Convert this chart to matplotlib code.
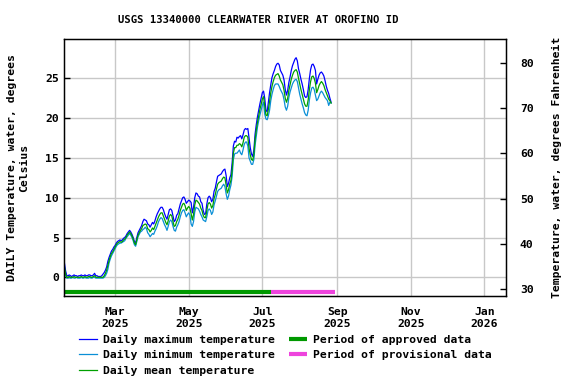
import matplotlib
matplotlib.use("Agg")
import matplotlib.pyplot as plt
import numpy as np
import pandas as pd

start_date = "2025-01-18"
flat_max = [0.2,0.3,0.2,0.1,0.2,0.3,0.2,0.2,0.1,0.2,0.2,0.3,0.2,0.2,0.3,0.2,0.2,0.3,0.3,0.2,0.2,0.3,0.5,0.2,0.2,0.1,0.1,0.1,0.2]
flat_min = [-0.1,0.0,-0.1,-0.1,0.0,-0.1,-0.1,0.0,-0.1,-0.1,-0.1,0.0,-0.1,-0.1,0.0,-0.1,-0.1,-0.1,0.0,-0.1,-0.1,0.0,0.0,-0.1,-0.1,-0.1,-0.1,-0.1,-0.1]
flat_mean = [0.0,0.1,0.0,0.0,0.0,0.1,0.0,0.0,0.0,0.0,0.0,0.1,0.0,0.0,0.1,0.0,0.0,0.1,0.1,0.0,0.0,0.1,0.2,0.0,0.0,0.0,0.0,0.0,0.0]

tmax = [1.8,0.8,0.2] + flat_max + [
 0.4,0.6,0.9,1.3,2.0,2.5,2.9,3.3,3.5,3.8,4.0,4.3,4.5,4.6,4.7,4.6,4.7,4.9,5.0,5.2,
 5.5,5.7,5.9,5.7,5.4,5.0,4.5,4.3,5.0,5.6,5.9,6.2,6.5,7.0,7.3,7.2,7.1,6.7,6.6,6.3,
 6.6,6.9,6.7,7.1,7.6,8.0,8.3,8.6,8.8,8.8,8.5,8.0,7.6,7.3,7.9,8.5,8.6,8.4,7.7,7.0,
 7.2,7.8,8.0,8.6,9.2,9.6,10.0,10.1,9.8,9.3,9.5,9.7,9.6,9.4,8.1,8.8,10.0,10.6,10.5,10.2,
 10.1,9.5,9.3,8.4,7.9,8.0,9.2,10.0,10.2,10.0,9.5,9.8,10.8,11.2,12.0,12.7,12.8,12.9,13.0,13.3,
 13.5,13.6,12.8,11.4,11.8,12.5,12.9,14.4,16.5,17.1,17.0,17.6,17.5,17.7,17.8,17.4,17.9,18.5,18.7,18.6,
 18.7,17.5,16.3,15.5,15.2,16.0,18.0,19.2,20.2,21.0,21.8,22.5,23.2,23.4,22.5,21.0,20.8,22.0,23.2,24.2,
 25.1,25.6,26.0,26.5,26.8,26.9,26.7,26.0,25.7,25.4,24.8,23.6,22.9,23.5,24.5,25.2,26.0,26.6,27.0,27.4,
 27.6,27.2,26.2,25.6,24.9,24.3,23.6,22.8,22.6,22.7,23.6,25.0,26.1,26.7,26.8,26.5,26.0,24.3,24.9,25.4,
 25.7,25.8,25.6,25.3,24.7,24.0,23.5,23.1,22.5,22.0]

tmin = [0.9,0.2,-0.1] + flat_min + [
 -0.1,0.0,0.2,0.5,1.0,1.8,2.3,2.7,3.0,3.3,3.6,3.9,4.1,4.2,4.3,4.3,4.4,4.5,4.6,4.9,
 5.1,5.3,5.5,5.3,5.0,4.6,4.1,3.9,4.5,5.1,5.4,5.7,5.8,6.0,6.1,6.3,6.1,5.6,5.4,5.1,
 5.3,5.5,5.4,5.8,6.1,6.5,7.0,7.3,7.5,7.4,7.0,6.6,6.3,5.9,6.4,7.0,7.2,7.0,6.4,5.9,
 5.8,6.3,6.6,7.0,7.6,8.1,8.4,8.5,8.1,7.6,7.9,8.1,7.8,6.7,6.4,7.0,8.2,8.8,8.7,8.6,
 8.3,7.9,7.6,7.2,7.1,7.0,7.6,8.4,8.6,8.4,7.9,8.2,9.1,9.6,10.2,10.8,11.0,11.1,11.2,11.5,
 11.7,11.4,10.5,9.8,10.2,11.0,11.6,12.7,14.8,15.5,15.6,15.6,15.8,16.0,15.6,15.4,16.0,16.7,17.0,17.0,
 16.5,15.0,14.6,14.2,14.2,14.8,16.6,17.8,18.9,19.7,20.4,21.0,21.6,22.0,20.5,19.9,19.8,20.3,21.0,22.2,
 23.0,23.6,24.1,24.3,24.3,24.3,24.0,23.6,23.3,23.0,22.3,21.4,21.0,21.5,22.6,23.3,23.8,24.3,24.6,24.8,
 24.9,24.6,23.8,23.0,22.4,21.8,21.3,20.7,20.4,20.3,21.0,22.3,23.2,23.8,23.9,23.6,22.9,22.2,22.4,22.8,
 23.2,23.4,23.2,22.9,22.6,22.4,22.2,21.6,22.0,21.9]

tmean = [1.3,0.4,0.0] + flat_mean + [
 0.0,0.2,0.5,0.9,1.5,2.1,2.6,3.0,3.2,3.5,3.8,4.1,4.3,4.4,4.5,4.4,4.5,4.7,4.8,5.0,
 5.3,5.5,5.7,5.5,5.2,4.8,4.3,4.1,4.7,5.3,5.6,5.9,6.1,6.5,6.6,6.7,6.6,6.1,6.0,5.7,
 5.9,6.2,6.0,6.4,6.8,7.2,7.6,7.9,8.1,8.1,7.7,7.3,6.9,6.6,7.1,7.7,7.9,7.7,7.0,6.4,
 6.5,7.0,7.3,7.8,8.4,8.8,9.2,9.3,9.0,8.4,8.7,8.9,8.7,8.0,7.2,7.9,9.1,9.7,9.6,9.4,
 9.2,8.7,8.4,7.8,7.5,7.5,8.4,9.2,9.4,9.2,8.7,9.0,9.9,10.4,11.1,11.7,11.9,12.0,12.1,12.4,
 12.6,12.5,11.6,10.6,11.0,11.7,12.2,13.5,15.6,16.3,16.3,16.6,16.6,16.8,16.7,16.4,16.9,17.6,17.8,17.8,
 17.6,16.2,15.4,14.8,14.7,15.4,17.3,18.5,19.5,20.3,21.1,21.7,22.4,22.7,21.5,20.4,20.3,21.1,22.1,23.2,
 24.0,24.6,25.1,25.4,25.5,25.6,25.3,24.8,24.5,24.2,23.5,22.5,22.0,22.5,23.5,24.2,24.9,25.4,25.8,26.0,
 26.1,25.8,25.0,24.3,23.6,23.0,22.4,21.8,21.5,21.5,22.3,23.6,24.6,25.2,25.3,25.0,24.4,23.2,23.6,24.1,
 24.4,24.6,24.4,24.1,23.6,23.2,22.8,22.4,22.2,21.9]

approved_period = ["2025-01-18", "2025-07-08"]
provisional_period = ["2025-07-08", "2025-08-30"]
period_level = -1.8

tick_dates = ["2025-03-01", "2025-05-01", "2025-07-01", "2025-09-01", "2025-11-01", "2026-01-01"]
tick_labels = ["Mar\n2025", "May\n2025", "Jul\n2025", "Sep\n2025", "Nov\n2025", "Jan\n2026"]
c_ticks = [0, 5, 10, 15, 20, 25]
f_ticks = [30, 40, 50, 60, 70, 80]

dates = pd.date_range(start_date, periods=len(tmax), freq="D")

FONT = "DejaVu Sans Mono"
plt.rcParams["font.family"] = FONT
plt.rcParams["font.weight"] = "bold"
fs = 8.2

fig = plt.figure(figsize=(5.76, 3.84), dpi=100)
ax = fig.add_axes([64/576, 88/384, 442/576, 257/384])

c_max = "#0000ff"
c_min = "#0a8fd6"
c_mean = "#00a000"

l1, = ax.plot(dates, tmax, color=c_max, lw=0.9, label="Daily maximum temperature")
l2, = ax.plot(dates, tmin, color=c_min, lw=0.9, label="Daily minimum temperature")
l3, = ax.plot(dates, tmean, color=c_mean, lw=0.9, label="Daily mean temperature")
l4, = ax.plot(pd.to_datetime(approved_period), [period_level]*2, color="#009900", lw=3,
              solid_capstyle="butt", label="Period of approved data")
l5, = ax.plot(pd.to_datetime(provisional_period), [period_level]*2, color="#ee44dd", lw=3,
              solid_capstyle="butt", label="Period of provisional data")

ax.set_xlim(pd.Timestamp("2025-01-17 16:00"), pd.Timestamp("2026-01-18 22:00"))
ax.set_ylim(-2.35, 29.95)
ax.set_xticks(pd.to_datetime(tick_dates))
ax.set_xticklabels(tick_labels)
ax.set_yticks(c_ticks)
ax.grid(True, color="#c8c8c8", lw=1)
ax.set_axisbelow(True)
ax.tick_params(direction="in", length=4, labelsize=fs, width=1)
ax.tick_params(axis="x", length=0, pad=8)
for s in ax.spines.values():
    s.set_linewidth(1)
ax.set_ylabel("DAILY Temperature, water, degrees\nCelsius", fontsize=fs, fontweight="bold", labelpad=12)

ax2 = ax.twinx()
ax2.set_ylim(28.5, 85.2)
ax2.set_yticks(f_ticks)
ax2.tick_params(direction="in", length=4, labelsize=fs, width=1, pad=10)
ax2.set_ylabel("Temperature, water, degrees Fahrenheit", fontsize=fs, fontweight="bold", labelpad=13)

fig.text(0.448, 0.948, "USGS 13340000 CLEARWATER RIVER AT OROFINO ID", ha="center", va="center",
         fontsize=7.6, fontweight="bold")

fig.legend(handles=[l1, l2, l3, l4, l5], ncol=2, loc="upper left", bbox_to_anchor=(79/576, 0.128),
           frameon=False, fontsize=fs, handlelength=1.55, handletextpad=0.53, columnspacing=1.3,
           labelspacing=0.48, borderaxespad=0, borderpad=0)

fig.savefig("out.png", dpi=100)
